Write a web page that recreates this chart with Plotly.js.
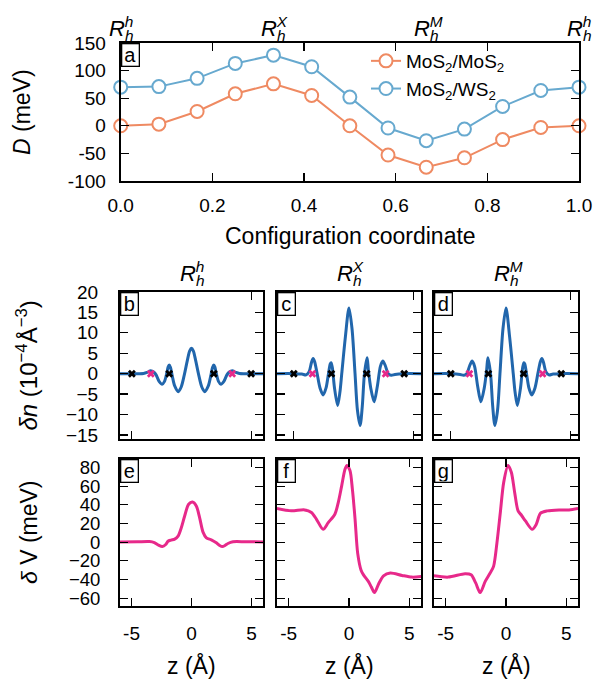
<!DOCTYPE html>
<html><head><meta charset="utf-8">
<script src="https://cdn.plot.ly/plotly-3.0.1.min.js"></script>
<style>html,body{margin:0;padding:0;background:#fff}#chart{width:595px;height:679px}</style>
</head><body><div id="chart"></div>
<script>
// ---------- data ----------
const configCoord = [0, 0.0833, 0.1667, 0.25, 0.3333, 0.4167, 0.5, 0.5833, 0.6667, 0.75, 0.8333, 0.9167, 1.0];
const D_MoS2_MoS2 = [0, 3, 26, 58, 76, 55, 0, -53, -75, -58, -25, -3, 0];
const D_MoS2_WS2  = [70, 71, 86, 113, 128, 107, 52, -4, -27, -6, 35, 64, 70];
const seriesNames = ['MoS<sub>2</sub>/MoS<sub>2</sub>', 'MoS<sub>2</sub>/WS<sub>2</sub>'];

const stackCoord = [0, 0.3333, 0.6667, 1];
const stackSup = ['h', 'X', 'M', 'h'];
const columnSup = ['h', 'X', 'M'];
const panelLetters = ['a', 'b', 'c', 'd', 'e', 'f', 'g'];

const z_b  = [-5.96,-5.0,-4.4,-4.0,-3.7,-3.4,-3.15,-2.95,-2.7,-2.45,-2.25,-2.05,-1.95,-1.86,-1.75,-1.6,-1.4,-1.1,-0.85,-0.6,-0.35,-0.15,0,0.15,0.35,0.6,0.85,1.1,1.4,1.6,1.75,1.86,1.95,2.05,2.25,2.45,2.7,2.95,3.15,3.4,3.7,4.0,4.4,5.0,5.96];
const dn_b = [0,0,0,0.05,0.3,0.7,0.4,-0.3,-1.9,-2.6,-1.9,0.3,1.6,2.1,1.5,-0.6,-3.0,-4.4,-3.2,-0.3,3.2,5.6,6.2,5.6,3.2,-0.3,-3.2,-4.4,-3.0,-0.6,1.5,2.1,1.6,0.3,-1.9,-2.6,-1.9,-0.3,0.4,0.7,0.3,0.05,0,0,0];

const z_c  = [-5.96,-4.5,-3.9,-3.55,-3.3,-3.1,-2.97,-2.85,-2.65,-2.4,-2.14,-1.9,-1.7,-1.55,-1.48,-1.38,-1.2,-0.94,-0.75,-0.6,-0.3,0,0.25,0.5,0.7,0.92,1.1,1.28,1.5,1.6,1.8,2.08,2.35,2.6,2.8,3.0,3.25,3.5,3.8,4.5,5.96];
const dn_c = [0,0,-0.1,-0.3,0.5,2.8,3.7,3.0,0.2,-3.5,-5.2,-3.5,0.0,2.4,2.7,1.5,-3.5,-7.8,-4.5,0,9,16.1,11,0,-9,-12.7,-8,0,3.9,1.0,-3.5,-6.9,-3.0,1.8,3.1,2.0,0.0,-0.4,-0.2,0,0];

const z_d  = [-5.96,-4.5,-3.8,-3.5,-3.25,-3.0,-2.8,-2.6,-2.35,-2.08,-1.8,-1.6,-1.5,-1.28,-1.1,-0.92,-0.7,-0.5,-0.25,0,0.3,0.6,0.75,0.94,1.2,1.38,1.48,1.55,1.7,1.9,2.14,2.4,2.65,2.85,2.97,3.1,3.3,3.55,3.9,4.5,5.96];
const dn_d = [0,0,-0.2,-0.4,0.0,2.0,3.1,1.8,-3.0,-6.9,-3.5,1.0,3.9,0,-8,-12.7,-9,0,11,16.1,9,0,-4.5,-7.8,-3.5,1.5,2.7,2.4,0.0,-3.5,-5.2,-3.5,0.2,3.0,3.7,2.8,0.5,-0.3,-0.1,0,0];

const atomsBlack_b = [-4.97, -1.86, 1.86, 4.97];
const atomsPink_b  = [-3.39, 3.39];
const atomsBlack_cd = [-4.57, -1.46, 1.46, 4.57];
const atomsPink_cd  = [-3.03, 3.03];

const z_e  = [-5.96,-4.5,-3.5,-3.1,-2.75,-2.43,-2.15,-1.96,-1.7,-1.4,-1.12,-0.85,-0.57,-0.24,0.08,0.4,0.68,0.96,1.24,1.65,2.07,2.35,2.57,2.8,3.04,3.46,4.5,5.96];
const dV_e = [0.2,0.4,0.6,-0.5,-3.2,-4.7,-2.5,1.0,2.2,3.2,6.5,15.5,28,40.6,43,38.8,26,10.8,4.7,2.5,-0.7,-3.5,-4.7,-3.5,-1.4,0.4,0.4,0.3];

const z_f  = [-5.97,-4.78,-3.67,-3.11,-2.69,-2.14,-1.72,-1.17,-0.89,-0.61,-0.33,-0.17,0.08,0.28,0.5,0.72,1.0,1.2,1.6,1.85,2.11,2.44,2.86,3.42,4.39,5.22,5.97];
const dV_f = [36,33.5,34.5,31.7,24.5,13.7,20.9,29.9,42.4,60,78,82,76.6,56.8,25,-12,-30,-35,-42,-48,-54,-45,-36,-33,-35.6,-37.4,-36.7];

const z_g  = [-5.97,-4.78,-3.39,-2.89,-2.5,-2.14,-1.72,-1.31,-1.03,-0.75,-0.47,-0.19,0.17,0.44,0.72,1.0,1.28,1.61,2.17,2.5,2.86,3.42,4.39,5.22,5.97];
const dV_g = [-36,-37.4,-33.8,-34.9,-43.9,-54,-42,-33,-25.9,-0.7,31.7,64,82,74.8,53,33.5,28.8,22.7,13.7,19,31,33.5,34.5,34.5,36];

// ---------- styling ----------
const FONT = 'Liberation Sans, Arial, Helvetica, sans-serif';
const C_OR = '#ef8a62', C_BL = '#67a9cf', C_DN = '#2166ac', C_PK = '#e7298a';
const W = 595, H = 679;
const px = v => v / W, py = v => 1 - v / H;

const traces = [];
[[D_MoS2_MoS2, C_OR, seriesNames[0]], [D_MoS2_WS2, C_BL, seriesNames[1]]].forEach(([y, c, n]) => {
  traces.push({x: configCoord, y: y, name: n, mode: 'lines+markers', xaxis: 'x', yaxis: 'y',
    cliponaxis: false, line: {color: c, width: 2},
    marker: {symbol: 'circle', size: 13, color: 'white', line: {color: c, width: 2}}});
});
const dnSets = [[z_b, dn_b, 2], [z_c, dn_c, 3], [z_d, dn_d, 4]];
dnSets.forEach(([z, v, k]) => traces.push({x: z, y: v, mode: 'lines', xaxis: 'x' + k, yaxis: 'y' + k,
  showlegend: false, line: {color: C_DN, width: 3, shape: 'spline', smoothing: 0.8}}));
const atomSets = [[atomsBlack_b, atomsPink_b, 2], [atomsBlack_cd, atomsPink_cd, 3], [atomsBlack_cd, atomsPink_cd, 4]];
atomSets.forEach(([blk, pnk, k]) => {
  [[blk, 'black'], [pnk, C_PK]].forEach(([a, c]) => traces.push({x: a, y: a.map(() => 0), mode: 'markers',
    xaxis: 'x' + k, yaxis: 'y' + k, showlegend: false, cliponaxis: false,
    marker: {symbol: 'x', size: 7, color: c, line: {width: 0}}}));
});
const dvSets = [[z_e, dV_e, 5], [z_f, dV_f, 6], [z_g, dV_g, 7]];
dvSets.forEach(([z, v, k]) => traces.push({x: z, y: v, mode: 'lines', xaxis: 'x' + k, yaxis: 'y' + k,
  showlegend: false, line: {color: C_PK, width: 3, shape: 'spline', smoothing: 0.8}}));

const base = {showline: true, linewidth: 2, linecolor: 'black', mirror: 'ticks', ticks: 'inside',
  ticklen: 8, tickwidth: 1.2, tickcolor: 'black', showgrid: false, zeroline: false,
  tickfont: {family: FONT, size: 19, color: 'black'}, fixedrange: true};
const ax = o => Object.assign({}, base, o);

const colX = [[120, 263], [277, 421], [434, 578]];
const row2Y = [py(439), py(292)], row3Y = [py(605.7), py(459)];

const layout = {
  width: W, height: H, margin: {l: 0, r: 0, t: 0, b: 0}, paper_bgcolor: 'white', plot_bgcolor: 'white',
  font: {family: FONT, color: 'black'},
  showlegend: true,
  legend: {x: px(366), y: py(42), xanchor: 'left', yanchor: 'top', bgcolor: 'rgba(0,0,0,0)',
    font: {family: FONT, size: 19, color: 'black'}, itemwidth: 30, tracegroupgap: 0},
  xaxis: ax({domain: [px(120.7), px(579)], range: [0, 1], anchor: 'y',
    tickvals: [0, 0.2, 0.4, 0.6, 0.8, 1.0], tickformat: '.1f', ticklabelstandoff: 6}),
  yaxis: ax({domain: [py(181), py(43)], range: [-100, 150], anchor: 'x',
    tickvals: [-100, -50, 0, 50, 100, 150], ticktext: ['-100', '-50', '0', '50', '100', '150'], ticklabelstandoff: 9}),
  annotations: []
};
const ttC = [[-5, 5], [-4.57, 5.35], [-4.57, 5.35]];
for (let i = 0; i < 3; i++) {
  const k2 = 2 + i, k3 = 5 + i;
  layout['xaxis' + k2] = ax({domain: [px(colX[i][0]), px(colX[i][1])], range: [-5.96, 5.96], anchor: 'y' + k2,
    tickvals: ttC[i], showticklabels: false});
  layout['yaxis' + k2] = ax({domain: row2Y, range: [-16, 20], anchor: 'x' + k2,
    tickvals: [-15, -10, -5, 0, 5, 10, 15, 20], showticklabels: i === 0, ticklabelstandoff: 16});
  layout['xaxis' + k3] = ax({domain: [px(colX[i][0]), px(colX[i][1])], range: [-5.96, 5.96], anchor: 'y' + k3,
    tickvals: [-5, 0, 5], ticktext: ['-5', '0', '5'], ticklabelstandoff: 9});
  layout['yaxis' + k3] = ax({domain: row3Y, range: [-68, 89], anchor: 'x' + k3,
    tickvals: [-60, -40, -20, 0, 20, 40, 60, 80], showticklabels: i === 0, ticklabelstandoff: 14,
    tickfont: {family: FONT, size: 18.5, color: 'black'}});
}

const A = layout.annotations;
// panel letters
panelLetters.forEach((L, i) => {
  const k = i + 1, s = k === 1 ? '' : String(k);
  A.push({xref: 'x' + s + ' domain', yref: 'y' + s + ' domain', x: 0, y: 1, xanchor: 'left', yanchor: 'top',
    text: L, showarrow: false, font: {family: FONT, size: 20, color: 'black'},
    bordercolor: 'black', borderwidth: 1.3, borderpad: 0, bgcolor: 'white', width: 16, height: 21});
});
// stacked R labels: subscript h and superscript drawn at the same x
function stackLabel(xref, x, yc, sup) {
  A.push({xref: xref, yref: 'paper', x: x, y: py(yc), xanchor: 'left', yanchor: 'middle', xshift: -13,
    text: '<i>R</i><sub><span style="letter-spacing:-0.56em"><i>h</i></span></sub><sup><i>' + sup + '</i></sup>',
    showarrow: false, font: {family: FONT, size: 22, color: 'black'}, borderpad: 0});
}
stackCoord.forEach((c, i) => stackLabel('x', c, 27, stackSup[i]));
columnSup.forEach((s, i) => stackLabel('x' + (2 + i) + ' domain', 0.5, 272, s));
// axis titles
const TF = {family: FONT, size: 23, color: 'black'};
A.push({xref: 'paper', yref: 'paper', x: px(350), y: py(236), xanchor: 'center', yanchor: 'middle',
  text: 'Configuration coordinate', showarrow: false, font: TF});
colX.forEach(c => A.push({xref: 'paper', yref: 'paper', x: px((c[0] + c[1]) / 2), y: py(665), xanchor: 'center',
  yanchor: 'middle', text: 'z (Å)', showarrow: false, font: TF}));
A.push({xref: 'paper', yref: 'paper', x: px(22), y: py(112), xanchor: 'center', yanchor: 'middle', textangle: -90,
  text: '<i>D</i> (meV)', showarrow: false, font: TF});
A.push({xref: 'paper', yref: 'paper', x: px(26), y: py(365.5), xanchor: 'center', yanchor: 'middle', textangle: -90,
  text: '<i>δn</i> (10<sup>−4</sup>Å<sup>−3</sup>)', showarrow: false, font: {family: FONT, size: 24, color: 'black'}});
A.push({xref: 'paper', yref: 'paper', x: px(29), y: py(532), xanchor: 'center', yanchor: 'middle', textangle: -90,
  text: '<i>δ</i> V (meV)', showarrow: false, font: TF});

Plotly.newPlot('chart', traces, layout, {displayModeBar: false, staticPlot: true});
</script></body></html>
